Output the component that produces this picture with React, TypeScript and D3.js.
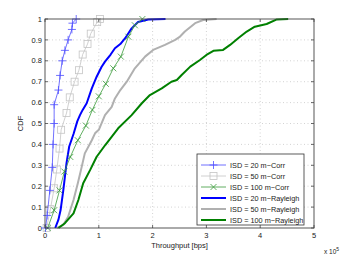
import { useEffect, useRef } from "react";
import * as d3 from "d3";

// throughput in units of 1e5 bps, CDF value
const corr20 = [[0.01, 0], [0.04, 0.06], [0.09, 0.18], [0.135, 0.29], [0.15, 0.40], [0.17, 0.50], [0.17, 0.59], [0.25, 0.66], [0.28, 0.73], [0.32, 0.80], [0.37, 0.85], [0.43, 0.90], [0.50, 0.95], [0.51, 0.98], [0.58, 1.0]];
const corr50 = [[0.03, 0], [0.10, 0.09], [0.17, 0.19], [0.22, 0.28], [0.27, 0.38], [0.30, 0.47], [0.40, 0.55], [0.46, 0.625], [0.55, 0.70], [0.63, 0.755], [0.70, 0.83], [0.79, 0.88], [0.85, 0.93], [0.97, 0.985], [1.02, 1.0]];
const corr100 = [[0.05, 0], [0.17, 0.085], [0.27, 0.18], [0.36, 0.27], [0.47, 0.34], [0.61, 0.42], [0.76, 0.49], [0.88, 0.565], [1.0, 0.63], [1.13, 0.69], [1.27, 0.764], [1.41, 0.82], [1.55, 0.915], [1.67, 0.97], [1.81, 1.0]];
const ray20 = [[0.19, 0], [0.25, 0.04], [0.29, 0.086], [0.34, 0.18], [0.40, 0.31], [0.45, 0.39], [0.53, 0.45], [0.60, 0.51], [0.65, 0.54], [0.70, 0.565], [0.775, 0.597], [0.87, 0.668], [0.96, 0.724], [1.05, 0.77], [1.115, 0.796], [1.22, 0.83], [1.30, 0.86], [1.40, 0.88], [1.49, 0.908], [1.61, 0.955], [1.73, 0.986], [1.92, 0.998], [2.24, 1.0]];
const ray50 = [[0.22, 0], [0.34, 0.015], [0.43, 0.054], [0.53, 0.134], [0.61, 0.214], [0.68, 0.29], [0.74, 0.357], [0.87, 0.42], [0.93, 0.453], [1.0, 0.47], [1.115, 0.54], [1.24, 0.58], [1.30, 0.62], [1.40, 0.66], [1.52, 0.70], [1.67, 0.764], [1.86, 0.82], [2.01, 0.852], [2.23, 0.876], [2.42, 0.90], [2.51, 0.916], [2.60, 0.94], [2.79, 0.98], [2.94, 0.995], [3.19, 1.0]];
const ray100 = [[0.25, 0], [0.37, 0.023], [0.53, 0.07], [0.62, 0.134], [0.71, 0.214], [0.84, 0.278], [0.96, 0.341], [1.12, 0.397], [1.36, 0.477], [1.61, 0.54], [1.80, 0.597], [1.95, 0.636], [2.17, 0.668], [2.35, 0.70], [2.45, 0.708], [2.54, 0.732], [2.70, 0.772], [2.88, 0.804], [3.0, 0.828], [3.13, 0.848], [3.31, 0.852], [3.44, 0.876], [3.59, 0.908], [3.75, 0.94], [3.9, 0.963], [4.12, 0.976], [4.31, 0.998], [4.52, 1.0]];

const xTicks = [0, 1, 2, 3, 4, 5];
const yTicks = [0, 0.1, 0.2, 0.3, 0.4, 0.5, 0.6, 0.7, 0.8, 0.9, 1];

const series = [
  { name: "ISD = 20 m\u2212Corr", data: corr20, color: "#4d4dff", width: 0.8, marker: "plus" },
  { name: "ISD = 50 m\u2212Corr", data: corr50, color: "#c4c4c4", width: 0.8, marker: "square" },
  { name: "ISD = 100 m\u2212Corr", data: corr100, color: "#3a9a3a", width: 0.8, marker: "x" },
  { name: "ISD = 20 m\u2212Rayleigh", data: ray20, color: "#0000ff", width: 2, marker: "" },
  { name: "ISD = 50 m\u2212Rayleigh", data: ray50, color: "#b0b0b0", width: 2, marker: "" },
  { name: "ISD = 100 m\u2212Rayleigh", data: ray100, color: "#008000", width: 2, marker: "" },
];

const drawOrder = [4, 5, 3, 1, 2, 0];

function drawMarker(g: any, type: string, cx: number, cy: number, color: string) {
  const s = 4;
  if (type === "plus") {
    g.append("path").attr("d", `M${cx - s},${cy}H${cx + s}M${cx},${cy - s}V${cy + s}`)
      .attr("stroke", color).attr("stroke-width", 0.8).attr("fill", "none");
  } else if (type === "x") {
    const t = 3;
    g.append("path").attr("d", `M${cx - t},${cy - t}L${cx + t},${cy + t}M${cx - t},${cy + t}L${cx + t},${cy - t}`)
      .attr("stroke", color).attr("stroke-width", 0.8).attr("fill", "none");
  } else if (type === "square") {
    g.append("rect").attr("x", cx - 3.5).attr("y", cy - 3.5).attr("width", 7).attr("height", 7)
      .attr("stroke", color).attr("stroke-width", 0.8).attr("fill", "none");
  }
}

export default function App() {
  const svgRef = useRef(null);

  useEffect(() => {
    const svg = d3.select(svgRef.current);
    svg.selectAll("*").remove();

    const margin = { left: 45, top: 19, right: 33, bottom: 29 };
    const W = 347, H = 257;
    const x = d3.scaleLinear().domain([0, 5]).range([margin.left, W - margin.right]);
    const y = d3.scaleLinear().domain([0, 1]).range([H - margin.bottom, margin.top]);
    const font = "Liberation Sans, Arial, sans-serif";

    svg.append("rect").attr("width", W).attr("height", H).attr("fill", "#fff");

    // grid
    const grid = svg.append("g").attr("stroke", "#c0c0c0").attr("stroke-width", 0.7).attr("stroke-dasharray", "1,2.5");
    xTicks.slice(1, -1).forEach((t) => {
      grid.append("line").attr("x1", x(t)).attr("x2", x(t)).attr("y1", y(0)).attr("y2", y(1));
    });
    yTicks.slice(1, -1).forEach((t) => {
      grid.append("line").attr("x1", x(0)).attr("x2", x(5)).attr("y1", y(t)).attr("y2", y(t));
    });

    // curves
    const line = d3.line().x((d: any) => x(d[0])).y((d: any) => y(d[1]));
    const plot = svg.append("g");
    drawOrder.forEach((i) => {
      const s = series[i];
      plot.append("path").attr("d", line(s.data as any)).attr("fill", "none")
        .attr("stroke", s.color).attr("stroke-width", s.width).attr("stroke-linejoin", "round");
      if (s.marker) s.data.forEach((d) => drawMarker(plot, s.marker, x(d[0]), y(d[1]), s.color));
    });

    // axes box
    svg.append("rect").attr("x", x(0)).attr("y", y(1)).attr("width", x(5) - x(0)).attr("height", y(0) - y(1))
      .attr("fill", "none").attr("stroke", "#444").attr("stroke-width", 0.9);

    const ticks = svg.append("g").attr("stroke", "#444").attr("stroke-width", 0.8);
    xTicks.forEach((t) => {
      ticks.append("line").attr("x1", x(t)).attr("x2", x(t)).attr("y1", y(0)).attr("y2", y(0) - 3);
      ticks.append("line").attr("x1", x(t)).attr("x2", x(t)).attr("y1", y(1)).attr("y2", y(1) + 3);
    });
    yTicks.forEach((t) => {
      ticks.append("line").attr("x1", x(0)).attr("x2", x(0) + 3).attr("y1", y(t)).attr("y2", y(t));
      ticks.append("line").attr("x1", x(5)).attr("x2", x(5) - 3).attr("y1", y(t)).attr("y2", y(t));
    });

    const labels = svg.append("g").attr("font-family", font).attr("font-size", 7.5).attr("fill", "#222");
    xTicks.forEach((t) => {
      labels.append("text").attr("x", x(t)).attr("y", y(0) + 10).attr("text-anchor", "middle").text(d3.format("d")(t));
    });
    yTicks.forEach((t) => {
      labels.append("text").attr("x", x(0) - 3).attr("y", y(t) + 2.6).attr("text-anchor", "end").text(d3.format("")(t));
    });

    labels.append("text").attr("x", (x(0) + x(5)) / 2).attr("y", 248).attr("text-anchor", "middle").text("Throughput [bps]");
    labels.append("text").attr("transform", `translate(23,${(y(0) + y(1)) / 2}) rotate(-90)`).attr("text-anchor", "middle").text("CDF");
    const exp = labels.append("text").attr("x", 324).attr("y", 254).attr("font-size", 6.5);
    exp.append("tspan").text("x 10");
    exp.append("tspan").attr("dy", -3).attr("font-size", 5).text("5");

    // legend
    const lx = 197, ly = 154, lw = 107, lh = 71;
    const leg = svg.append("g");
    leg.append("rect").attr("x", lx).attr("y", ly).attr("width", lw).attr("height", lh)
      .attr("fill", "#fff").attr("stroke", "#333").attr("stroke-width", 0.8);
    series.forEach((s, i) => {
      const cy = ly + 11 + i * 11;
      leg.append("line").attr("x1", lx + 4).attr("x2", lx + 29).attr("y1", cy).attr("y2", cy)
        .attr("stroke", s.color).attr("stroke-width", s.width);
      if (s.marker) drawMarker(leg, s.marker, lx + 16.5, cy, s.color);
      leg.append("text").attr("x", lx + 33).attr("y", cy + 2.6).attr("font-family", font)
        .attr("font-size", 7.3).attr("fill", "#222").text(s.name);
    });
  }, []);

  return (
    <svg ref={svgRef} width={347} height={257}
      style={{ position: "absolute", left: 0, top: 0, display: "block" }} />
  );
}
